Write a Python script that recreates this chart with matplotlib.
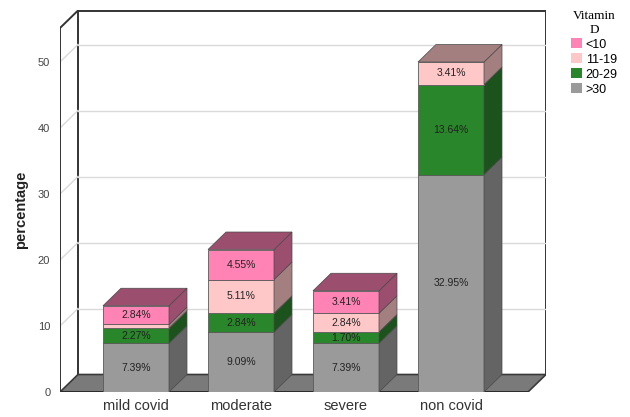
"""
Stacked 3D-style bar chart of vitamin D levels by covid severity
"""

import matplotlib.pyplot as plt
from matplotlib.patches import Polygon, Patch

plt.rcParams['font.family'] = ['Liberation Sans', 'DejaVu Sans']

groups = ['mild covid', 'moderate', 'severe', 'non covid']
levels = ['>30', '20-29', '11-19', '<10']   # bottom to top
pct = {
    '>30':   [7.39, 9.09, 7.39, 32.95],
    '20-29': [2.27, 2.84, 1.70, 13.64],
    '11-19': [0.57, 5.11, 2.84, 3.41],
    '<10':   [2.84, 4.55, 3.41, 0.0],
}
yticks = [0, 10, 20, 30, 40, 50]

front = {'>30': '#9a9a9a', '20-29': '#2a862a', '11-19': '#ffc8c8', '<10': '#ff84b5'}
shade = {'>30': '#646464', '20-29': '#1c531c', '11-19': '#a37f80', '<10': '#9b4e6d'}

W, H = 630, 417
fig = plt.figure(figsize=(W / 100, H / 100), dpi=100)

# axes box in pixels: front axis at x=60, far wall edge at x=546, y=0 at 392, top at 10
px_l, px_r, px_b, px_t = 60, 546, 392, 10
ax = fig.add_axes([px_l / W, 1 - px_b / H, (px_r - px_l) / W, (px_b - px_t) / H])

xpix = 105.0            # pixels per category
ypix = 6.6              # pixels per percent
DX = 18 / xpix          # depth offset
DY = 17.5 / ypix
xL = -(136 - px_l) / xpix
xR = 3 + (px_r - 451) / xpix
ytop = (px_b - 28) / ypix
bw = 66 / xpix

ax.set_xlim(xL, xR)
ax.set_ylim(0, (px_b - px_t) / ypix)
for s in ax.spines.values():
    s.set_visible(False)
ax.patch.set_visible(False)

edge = '#333333'
grid = '#dadada'

# back wall
ax.add_patch(Polygon([(xL + DX, DY), (xR, DY), (xR, ytop + DY), (xL + DX, ytop + DY)],
                     closed=True, facecolor='white', edgecolor=edge, lw=1.4, zorder=1))
for v in yticks[1:]:
    ax.plot([xL + DX, xR], [v + DY, v + DY], color=grid, lw=1, zorder=2)
    ax.plot([xL, xL + DX], [v, v + DY], color=grid, lw=1, zorder=2)

# floor
ax.add_patch(Polygon([(xL, 0), (xR - DX, 0), (xR, DY), (xL + DX, DY)],
                     closed=True, facecolor='#7a7a7a', edgecolor='#3a3a3a', lw=1.2, zorder=3))
ax.plot([xL, xR - DX], [0, 0], color='#2a2a2a', lw=2, zorder=3, solid_capstyle='butt')

# left axis wall edge
ax.plot([xL, xL, xL + DX], [0, ytop, ytop + DY], color=edge, lw=1.4, zorder=4)

for i, g in enumerate(groups):
    x0, x1 = i - bw / 2, i + bw / 2
    base = 0.0
    for lev in levels:
        h = pct[lev][i]
        if h <= 0:
            continue
        ax.bar(i, h, width=bw, bottom=base, color=front[lev], edgecolor='#5a5a5a',
               lw=0.6, zorder=5)
        ax.add_patch(Polygon([(x1, base), (x1 + DX, base + DY), (x1 + DX, base + h + DY), (x1, base + h)],
                             closed=True, facecolor=shade[lev], edgecolor='#4a4a4a', lw=0.5, zorder=5))
        if h >= 1:
            ax.text(i, base + h / 2, f'{h:.2f}%', ha='center', va='center',
                    fontsize=7.5, color='#222222', zorder=7)
        base += h
        top_lev = lev
    ax.add_patch(Polygon([(x0, base), (x1, base), (x1 + DX, base + DY), (x0 + DX, base + DY)],
                         closed=True, facecolor=shade[top_lev], edgecolor='#4a4a4a', lw=0.5, zorder=6))

ax.set_yticks(yticks)
ax.set_xticks(range(len(groups)), groups)
ax.tick_params(axis='y', length=0, pad=7, labelsize=8, labelcolor='#444444')
ax.tick_params(axis='x', length=0, pad=5, labelsize=10.5, labelcolor='#333333')
fig.text(21 / W, 1 - 210 / H, 'percentage', rotation=90, ha='center', va='center',
         fontsize=10.5, fontweight='bold', color='#222222')

handles = [Patch(facecolor=front[l], edgecolor='none') for l in levels[::-1]]
leg = fig.legend(handles, levels[::-1], title='Vitamin\nD', loc='upper left',
                 bbox_to_anchor=(562 / W, 1 - 1 / H), frameon=False, fontsize=9,
                 handlelength=0.9, handleheight=0.9, handletextpad=0.3,
                 labelspacing=0.2, borderpad=0.2)
leg.get_title().set_fontfamily('Liberation Serif')
leg.get_title().set_fontsize(9.5)
leg.get_title().set_multialignment('center')

fig.savefig('out.png', dpi=100)
